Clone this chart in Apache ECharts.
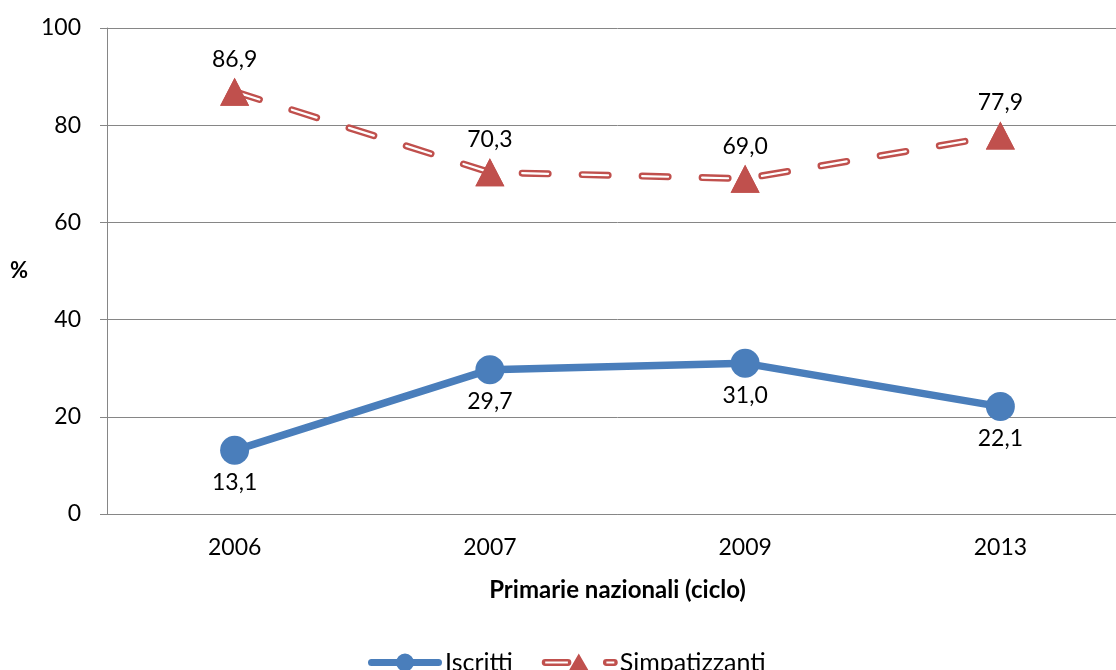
<!DOCTYPE html>
<html>
<head>
<meta charset="utf-8">
<script src="https://cdn.jsdelivr.net/npm/echarts@6/dist/echarts.min.js"></script>
<style>
  html, body { margin: 0; padding: 0; background: #fff; overflow: hidden; }
  #chart { width: 1132px; height: 670px; }
</style>
</head>
<body>
<div id="chart"></div>
<script>
// Primarie nazionali: quota di iscritti e simpatizzanti (%)
const categories = ['2006', '2007', '2009', '2013'];
const iscritti = [13.1, 29.7, 31.0, 22.1];
const simpatizzanti = [86.9, 70.3, 69.0, 77.9];
const yTicks = [0, 20, 40, 60, 80, 100];

const FONT = 'Lato, "Open Sans", sans-serif';
const BLUE = '#4a7ebb';
const RED = '#c0504d';
const dash = [26, 34];

const fmt = p => p.value.toFixed(1).replace('.', ',');

// legend glyphs: thick line with marker; the red one has a hollow core
const iconIscritti = 'path://M3.5 5.5 L70.5 5.5 A3.5 3.5 0 0 1 70.5 12.5 L3.5 12.5 A3.5 3.5 0 0 1 3.5 5.5 Z ' +
  'M28 9 A9 9 0 1 1 46 9 A9 9 0 1 1 28 9 Z';
const iconSimpatizzanti = 'path://M3.5 5.5 L26.5 5.5 A3.5 3.5 0 0 1 26.5 12.5 L3.5 12.5 A3.5 3.5 0 0 1 3.5 5.5 Z ' +
  'M3.5 8 L3.5 10 L26.5 10 L26.5 8 Z ' +
  'M37.5 0 L48 18 L27 18 Z ' +
  'M65.5 5.5 L73.5 5.5 A3.5 3.5 0 0 1 73.5 12.5 L65.5 12.5 A3.5 3.5 0 0 1 65.5 5.5 Z ' +
  'M65.5 8 L65.5 10 L73.5 10 L73.5 8 Z';

const chart = echarts.init(document.getElementById('chart'));
chart.setOption({
  animation: false,
  textStyle: { fontFamily: FONT },
  grid: { left: 107, top: 28, width: 1021, height: 486, containLabel: false },
  xAxis: {
    type: 'category',
    data: categories,
    boundaryGap: true,
    axisLine: { lineStyle: { color: '#868686', width: 1 } },
    axisTick: { show: false },
    axisLabel: { color: '#000', fontSize: 23, margin: 22, fontFamily: FONT },
    name: 'Primarie nazionali (ciclo)',
    nameLocation: 'middle',
    nameGap: 64,
    nameTextStyle: { color: '#000', fontSize: 24, fontWeight: 'bold', fontFamily: FONT }
  },
  yAxis: {
    type: 'value',
    min: yTicks[0],
    max: yTicks[yTicks.length - 1],
    interval: 20,
    axisLine: { show: true, lineStyle: { color: '#868686', width: 1 } },
    axisTick: { show: true, length: 7, inside: false, lineStyle: { color: '#868686' } },
    axisLabel: { color: '#000', fontSize: 23, margin: 26, fontFamily: FONT },
    splitLine: { lineStyle: { color: '#868686', width: 1 } },
    name: '%',
    nameLocation: 'middle',
    nameGap: 79,
    nameRotate: 0,
    nameTextStyle: { color: '#000', fontSize: 22, fontWeight: 'bold', fontFamily: FONT, padding: [0, 0, 12, 0] }
  },
  legend: {
    left: 363,
    top: 645,
    itemWidth: 76,
    itemHeight: 18,
    itemGap: 29,
    symbolKeepAspect: true,
    data: [
      { name: 'Iscritti', icon: iconIscritti, itemStyle: { color: BLUE, borderWidth: 0 } },
      { name: 'Simpatizzanti', icon: iconSimpatizzanti, itemStyle: { color: RED, borderWidth: 0 } }
    ],
    textStyle: { color: '#000', fontSize: 25, fontFamily: FONT, padding: [0, 0, 4, -3] }
  },
  series: [
    {
      name: 'Iscritti',
      type: 'line',
      data: iscritti,
      symbol: 'circle',
      symbolSize: 29,
      itemStyle: { color: BLUE },
      lineStyle: { color: BLUE, width: 7.5 },
      label: { show: true, position: 'bottom', distance: 6, formatter: fmt, color: '#000', fontSize: 23, fontFamily: FONT },
      z: 3
    },
    {
      name: 'Simpatizzanti',
      type: 'line',
      data: simpatizzanti,
      symbol: 'triangle',
      symbolSize: [29, 28],
      itemStyle: { color: RED },
      lineStyle: { color: RED, width: 7, type: dash, cap: 'round' },
      label: { show: true, position: 'top', distance: 7, formatter: fmt, color: '#000', fontSize: 23, fontFamily: FONT },
      z: 3
    },
    {
      // white core that gives the dashed line its double-stroke look
      name: 'core',
      type: 'line',
      data: simpatizzanti,
      symbol: 'none',
      silent: true,
      lineStyle: { color: '#fff', width: 2.2, type: dash, cap: 'round' },
      z: 4
    },
    {
      // triangles redrawn above the white core
      name: 'marks',
      type: 'line',
      data: simpatizzanti,
      symbol: 'triangle',
      symbolSize: [29, 28],
      itemStyle: { color: RED },
      lineStyle: { width: 0, opacity: 0 },
      silent: true,
      z: 5
    }
  ]
});
</script>
</body>
</html>
